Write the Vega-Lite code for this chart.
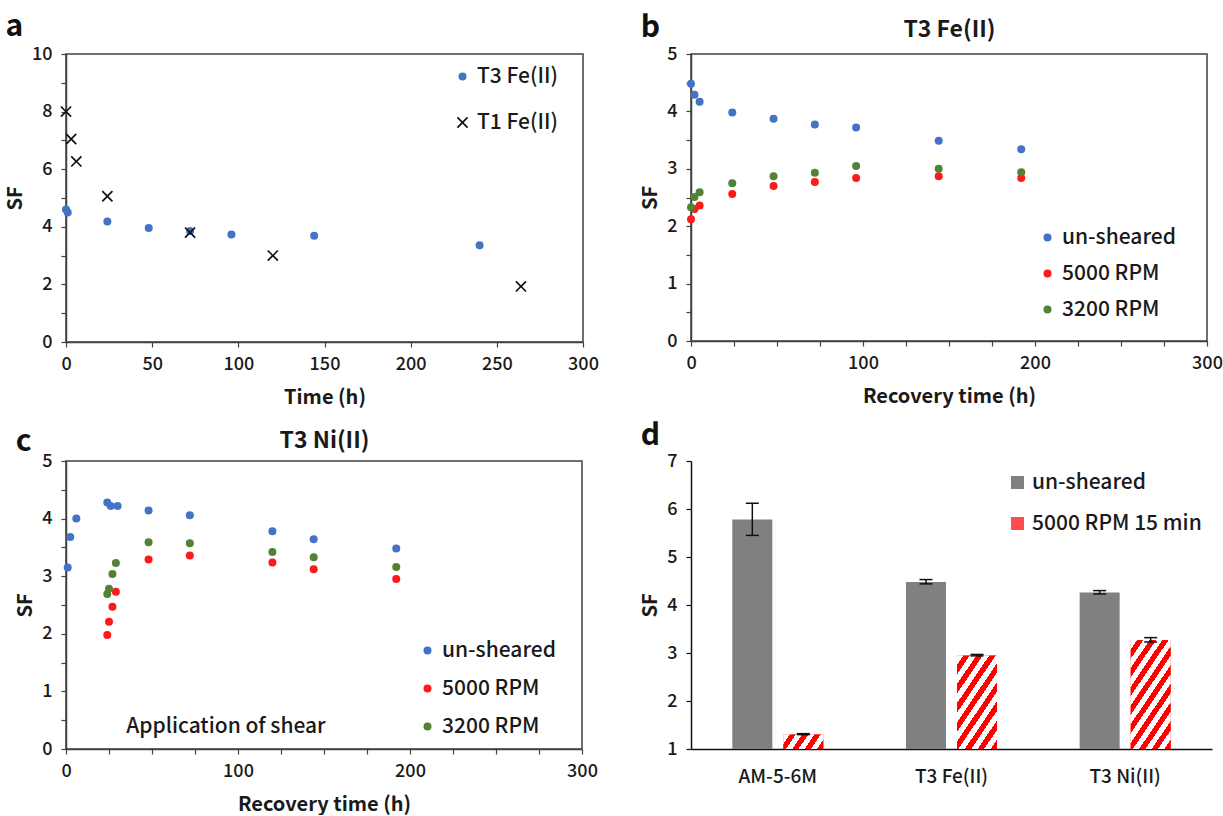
{
  "$schema": "https://vega.github.io/schema/vega-lite/v6.json",
  "background": "white",
  "padding": {"left": 4, "top": 11, "right": 0, "bottom": 0},
  "config": {
    "font": "Noto Sans CJK SC",
    "view": {"stroke": "#404040", "strokeWidth": 1.5},
    "axis": {"grid": false, "labelFontSize": 18, "labelFontWeight": 500, "labelColor": "#1a1a1a", "titleFontSize": 20, "titleFontWeight": "bold", "titleColor": "#1a1a1a", "domainColor": "#404040", "domainWidth": 1.5, "tickColor": "#404040", "tickWidth": 1.2, "tickSize": 5, "labelFlush": false, "labelOverlap": false},
    "axisX": {"labelPadding": 8, "titlePadding": 14},
    "axisY": {"labelPadding": 9, "titlePadding": 6},
    "legend": {"labelFontSize": 21, "labelFontWeight": 500, "labelColor": "#1a1a1a", "labelOffset": 4, "padding": 0, "labelLimit": 400},
    "title": {"fontSize": 30, "fontWeight": "bold", "anchor": "start", "frame": "bounds", "color": "#111111"}
  },
  "columns": 2,
  "spacing": {"row": 13, "column": 39},
  "resolve": {"scale": {"color": "independent", "shape": "independent"}, "legend": {"color": "independent", "shape": "independent"}},
  "concat": [
    {
      "title": {"text": "a", "offset": 3},
      "width": 517, "height": 288,
      "data": {"values": [
        {"series": "T3 Fe(II)", "t": 0, "sf": 4.6},
        {"series": "T3 Fe(II)", "t": 1, "sf": 4.5},
        {"series": "T3 Fe(II)", "t": 24, "sf": 4.18},
        {"series": "T3 Fe(II)", "t": 48, "sf": 3.96},
        {"series": "T3 Fe(II)", "t": 72, "sf": 3.85},
        {"series": "T3 Fe(II)", "t": 96, "sf": 3.73},
        {"series": "T3 Fe(II)", "t": 144, "sf": 3.69},
        {"series": "T3 Fe(II)", "t": 240, "sf": 3.36},
        {"series": "T1 Fe(II)", "t": 0, "sf": 8.0},
        {"series": "T1 Fe(II)", "t": 3, "sf": 7.05},
        {"series": "T1 Fe(II)", "t": 6, "sf": 6.27},
        {"series": "T1 Fe(II)", "t": 24, "sf": 5.06},
        {"series": "T1 Fe(II)", "t": 72, "sf": 3.8},
        {"series": "T1 Fe(II)", "t": 120, "sf": 3.0},
        {"series": "T1 Fe(II)", "t": 264, "sf": 1.93}
      ]},
      "mark": {"type": "point", "filled": true, "size": 64, "opacity": 1},
      "encoding": {
        "x": {"field": "t", "type": "quantitative", "scale": {"domain": [0, 300], "nice": false}, "axis": {"values": [0, 50, 100, 150, 200, 250, 300], "title": "Time (h)"}},
        "y": {"field": "sf", "type": "quantitative", "scale": {"domain": [0, 10], "nice": false}, "axis": {"values": [0, 1, 2, 3, 4, 5, 6, 7, 8, 9, 10], "labelExpr": "datum.value % 2 === 0 ? format(datum.value, 'd') : ''", "title": "SF"}},
        "color": {"field": "series", "type": "nominal", "scale": {"domain": ["T3 Fe(II)", "T1 Fe(II)"], "range": ["#4472C4", "#111111"]}, "legend": {"title": null, "orient": "none", "legendX": 386, "legendY": 12, "rowPadding": 24, "symbolSize": 64}},
        "shape": {"field": "series", "type": "nominal", "scale": {"domain": ["T3 Fe(II)", "T1 Fe(II)"], "range": ["circle", "M-1.42,-1.12L-1.12,-1.42L0,-0.3L1.12,-1.42L1.42,-1.12L0.3,0L1.42,1.12L1.12,1.42L0,0.3L-1.12,1.42L-1.42,1.12L-0.3,0Z"]}, "legend": {"title": null, "orient": "none", "legendX": 386, "legendY": 12, "rowPadding": 24, "symbolSize": 64}}
      }
    },
    {
      "title": {"text": "b", "offset": -25},
      "width": 516, "height": 287,
      "data": {"values": [
        {"series": "un-sheared", "t": 0, "sf": 4.48},
        {"series": "un-sheared", "t": 2, "sf": 4.29},
        {"series": "un-sheared", "t": 5, "sf": 4.17},
        {"series": "un-sheared", "t": 24, "sf": 3.98},
        {"series": "un-sheared", "t": 48, "sf": 3.87},
        {"series": "un-sheared", "t": 72, "sf": 3.77},
        {"series": "un-sheared", "t": 96, "sf": 3.72},
        {"series": "un-sheared", "t": 144, "sf": 3.49},
        {"series": "un-sheared", "t": 192, "sf": 3.34},
        {"series": "5000 RPM", "t": 0, "sf": 2.12},
        {"series": "5000 RPM", "t": 2, "sf": 2.3},
        {"series": "5000 RPM", "t": 5, "sf": 2.36},
        {"series": "5000 RPM", "t": 24, "sf": 2.56},
        {"series": "5000 RPM", "t": 48, "sf": 2.7},
        {"series": "5000 RPM", "t": 72, "sf": 2.77},
        {"series": "5000 RPM", "t": 96, "sf": 2.84},
        {"series": "5000 RPM", "t": 144, "sf": 2.87},
        {"series": "5000 RPM", "t": 192, "sf": 2.84},
        {"series": "3200 RPM", "t": 0, "sf": 2.33},
        {"series": "3200 RPM", "t": 2, "sf": 2.51},
        {"series": "3200 RPM", "t": 5, "sf": 2.59},
        {"series": "3200 RPM", "t": 24, "sf": 2.75},
        {"series": "3200 RPM", "t": 48, "sf": 2.87},
        {"series": "3200 RPM", "t": 72, "sf": 2.93},
        {"series": "3200 RPM", "t": 96, "sf": 3.05},
        {"series": "3200 RPM", "t": 144, "sf": 3.0},
        {"series": "3200 RPM", "t": 192, "sf": 2.94}
      ]},
      "layer": [
        {
          "mark": {"type": "point", "filled": true, "size": 64, "opacity": 1},
          "encoding": {
            "x": {"field": "t", "type": "quantitative", "scale": {"domain": [0, 300], "nice": false}, "axis": {"values": [0, 25, 50, 75, 100, 125, 150, 175, 200, 225, 250, 275, 300], "labelExpr": "datum.value % 100 === 0 ? format(datum.value, 'd') : ''", "title": "Recovery time (h)"}},
            "y": {"field": "sf", "type": "quantitative", "scale": {"domain": [0, 5], "nice": false}, "axis": {"values": [0, 0.5, 1, 1.5, 2, 2.5, 3, 3.5, 4, 4.5, 5], "labelExpr": "datum.value % 1 === 0 ? format(datum.value, 'd') : ''", "title": "SF"}},
            "color": {"field": "series", "type": "nominal", "scale": {"domain": ["un-sheared", "5000 RPM", "3200 RPM"], "range": ["#4472C4", "#FF1A1A", "#548235"]}, "legend": {"title": null, "orient": "none", "legendX": 346, "legendY": 173, "rowPadding": 14, "symbolSize": 64, "symbolType": "circle"}}
          }
        },
        {
          "mark": {"type": "rule", "opacity": 0},
          "encoding": {
            "x": {"datum": 0, "type": "quantitative", "scale": {"domain": [0, 300], "nice": false}, "axis": {"orient": "top", "title": "T3 Fe(II)", "labels": false, "ticks": false, "domain": false, "titleFontSize": 23, "titlePadding": 13}}
          }
        }
      ],
      "resolve": {"scale": {"x": "independent"}, "axis": {"x": "independent"}}
    },
    {
      "title": {"text": "c", "offset": -28},
      "width": 516, "height": 288,
      "layer": [
        {
          "mark": {"type": "rule", "color": "#333333", "strokeWidth": 1, "strokeDash": [4, 3]},
          "encoding": {
            "x": {"datum": 24, "type": "quantitative", "scale": {"domain": [0, 300], "nice": false}, "axis": null}
          }
        },
        {
          "data": {"values": [
            {"series": "un-sheared", "t": 1, "sf": 3.15},
            {"series": "un-sheared", "t": 2.5, "sf": 3.68},
            {"series": "un-sheared", "t": 6, "sf": 4.0},
            {"series": "un-sheared", "t": 24, "sf": 4.28},
            {"series": "un-sheared", "t": 26, "sf": 4.22},
            {"series": "un-sheared", "t": 30, "sf": 4.22},
            {"series": "un-sheared", "t": 48, "sf": 4.14},
            {"series": "un-sheared", "t": 72, "sf": 4.06},
            {"series": "un-sheared", "t": 120, "sf": 3.78},
            {"series": "un-sheared", "t": 144, "sf": 3.64},
            {"series": "un-sheared", "t": 192, "sf": 3.48},
            {"series": "5000 RPM", "t": 24, "sf": 1.98},
            {"series": "5000 RPM", "t": 25, "sf": 2.21},
            {"series": "5000 RPM", "t": 27, "sf": 2.47},
            {"series": "5000 RPM", "t": 29, "sf": 2.73},
            {"series": "5000 RPM", "t": 48, "sf": 3.29},
            {"series": "5000 RPM", "t": 72, "sf": 3.36},
            {"series": "5000 RPM", "t": 120, "sf": 3.24},
            {"series": "5000 RPM", "t": 144, "sf": 3.12},
            {"series": "5000 RPM", "t": 192, "sf": 2.95},
            {"series": "3200 RPM", "t": 24, "sf": 2.69},
            {"series": "3200 RPM", "t": 25, "sf": 2.78},
            {"series": "3200 RPM", "t": 27, "sf": 3.04},
            {"series": "3200 RPM", "t": 29, "sf": 3.23},
            {"series": "3200 RPM", "t": 48, "sf": 3.59},
            {"series": "3200 RPM", "t": 72, "sf": 3.57},
            {"series": "3200 RPM", "t": 120, "sf": 3.42},
            {"series": "3200 RPM", "t": 144, "sf": 3.33},
            {"series": "3200 RPM", "t": 192, "sf": 3.16}
          ]},
          "mark": {"type": "point", "filled": true, "size": 64, "opacity": 1},
          "encoding": {
            "x": {"field": "t", "type": "quantitative", "scale": {"domain": [0, 300], "nice": false}, "axis": {"values": [0, 25, 50, 75, 100, 125, 150, 175, 200, 225, 250, 275, 300], "labelExpr": "datum.value % 100 === 0 ? format(datum.value, 'd') : ''", "title": "Recovery time (h)"}},
            "y": {"field": "sf", "type": "quantitative", "scale": {"domain": [0, 5], "nice": false}, "axis": {"values": [0, 0.5, 1, 1.5, 2, 2.5, 3, 3.5, 4, 4.5, 5], "labelExpr": "datum.value % 1 === 0 ? format(datum.value, 'd') : ''", "title": "SF"}},
            "color": {"field": "series", "type": "nominal", "scale": {"domain": ["un-sheared", "5000 RPM", "3200 RPM"], "range": ["#4472C4", "#FF1A1A", "#548235"]}, "legend": {"title": null, "orient": "none", "legendX": 351, "legendY": 179, "rowPadding": 16, "symbolSize": 64, "symbolType": "circle"}}
          }
        },
        {
          "data": {"values": [{"t": 35, "sf": 0.39, "label": "Application of shear"}]},
          "mark": {"type": "text", "align": "left", "baseline": "middle", "fontSize": 21, "fontWeight": 500, "color": "#1a1a1a"},
          "encoding": {
            "x": {"field": "t", "type": "quantitative", "scale": {"domain": [0, 300], "nice": false}, "axis": null},
            "y": {"field": "sf", "type": "quantitative", "scale": {"domain": [0, 5], "nice": false}, "axis": {"values": [0, 0.5, 1, 1.5, 2, 2.5, 3, 3.5, 4, 4.5, 5], "labelExpr": "datum.value % 1 === 0 ? format(datum.value, 'd') : ''", "title": "SF"}},
            "text": {"field": "label"}
          }
        },
        {
          "mark": {"type": "rule", "opacity": 0},
          "encoding": {
            "x": {"datum": 0, "type": "quantitative", "scale": {"domain": [0, 300], "nice": false}, "axis": {"orient": "top", "title": "T3 Ni(II)", "labels": false, "ticks": false, "domain": false, "titleFontSize": 23, "titlePadding": 9}}
          }
        }
      ],
      "resolve": {"scale": {"x": "independent"}, "axis": {"x": "independent"}}
    },
    {
      "title": {"text": "d", "offset": 1},
      "width": 521, "height": 288,
      "view": {"stroke": null},
      "data": {"values": [
        {"group": "AM-5-6M", "cond": "un-sheared", "sf": 5.78, "lo": 5.45, "hi": 6.12},
        {"group": "T3 Fe(II)", "cond": "un-sheared", "sf": 4.48, "lo": 4.44, "hi": 4.53},
        {"group": "T3 Ni(II)", "cond": "un-sheared", "sf": 4.26, "lo": 4.23, "hi": 4.3},
        {"group": "AM-5-6M", "cond": "5000 RPM 15 min", "sf": 1.3, "lo": 1.3, "hi": 1.32},
        {"group": "T3 Fe(II)", "cond": "5000 RPM 15 min", "sf": 2.95, "lo": 2.94, "hi": 2.97},
        {"group": "T3 Ni(II)", "cond": "5000 RPM 15 min", "sf": 3.27, "lo": 3.23, "hi": 3.32}
      ]},
      "encoding": {
        "x": {"field": "group", "type": "nominal", "scale": {"domain": ["AM-5-6M", "T3 Fe(II)", "T3 Ni(II)"], "paddingInner": 0, "paddingOuter": 0}, "axis": {"title": null, "ticks": false, "tickSize": 0, "labelAngle": 0, "labelFontSize": 19, "labelPadding": 18, "domainColor": "#111111"}},
        "xOffset": {"field": "cond", "type": "nominal", "scale": {"domain": ["un-sheared", "5000 RPM 15 min"], "paddingInner": 0.216, "paddingOuter": 0.81}}
      },
      "layer": [
        {
          "mark": {"type": "bar"},
          "encoding": {
            "y": {"field": "sf", "type": "quantitative", "scale": {"domain": [1, 7], "nice": false, "zero": false}, "axis": {"values": [1, 2, 3, 4, 5, 6, 7], "title": "SF", "domainColor": "#111111", "tickColor": "#111111"}},
            "y2": {"datum": 1},
            "color": {"field": "cond", "type": "nominal", "scale": {"domain": ["un-sheared", "5000 RPM 15 min"], "range": ["#808080", "#FF4D4D"]}, "legend": {"title": null, "orient": "none", "legendX": 316, "legendY": 11, "rowPadding": 19, "symbolType": "square", "symbolSize": 170}}
          }
        },
        {
          "transform": [{"filter": "datum.cond === '5000 RPM 15 min' && datum.group === 'AM-5-6M'"}],
          "mark": {"type": "bar", "fill": {"gradient": "linear", "x1": 0, "y1": 0, "x2": 1.173, "y2": 0.2855, "stops": [
            {"offset": 0, "color": "#ffffff"}, {"offset": 0.125, "color": "#ffffff"}, {"offset": 0.125, "color": "#ff0000"}, {"offset": 0.25, "color": "#ff0000"},
            {"offset": 0.25, "color": "#ffffff"}, {"offset": 0.375, "color": "#ffffff"}, {"offset": 0.375, "color": "#ff0000"}, {"offset": 0.5, "color": "#ff0000"},
            {"offset": 0.5, "color": "#ffffff"}, {"offset": 0.625, "color": "#ffffff"}, {"offset": 0.625, "color": "#ff0000"}, {"offset": 0.75, "color": "#ff0000"},
            {"offset": 0.75, "color": "#ffffff"}, {"offset": 0.875, "color": "#ffffff"}, {"offset": 0.875, "color": "#ff0000"}, {"offset": 1, "color": "#ff0000"}
          ]}},
          "encoding": {
            "y": {"field": "sf", "type": "quantitative"},
            "y2": {"datum": 1}
          }
        },
        {
          "transform": [{"filter": "datum.cond === '5000 RPM 15 min' && datum.group === 'T3 Fe(II)'"}],
          "mark": {"type": "bar", "fill": {"gradient": "linear", "x1": 0, "y1": 0, "x2": 0.7375, "y2": 1.166, "stops": [
            {"offset": 0, "color": "#ffffff"}, {"offset": 0.0625, "color": "#ffffff"}, {"offset": 0.0625, "color": "#ff0000"}, {"offset": 0.125, "color": "#ff0000"},
            {"offset": 0.125, "color": "#ffffff"}, {"offset": 0.1875, "color": "#ffffff"}, {"offset": 0.1875, "color": "#ff0000"}, {"offset": 0.25, "color": "#ff0000"},
            {"offset": 0.25, "color": "#ffffff"}, {"offset": 0.3125, "color": "#ffffff"}, {"offset": 0.3125, "color": "#ff0000"}, {"offset": 0.375, "color": "#ff0000"},
            {"offset": 0.375, "color": "#ffffff"}, {"offset": 0.4375, "color": "#ffffff"}, {"offset": 0.4375, "color": "#ff0000"}, {"offset": 0.5, "color": "#ff0000"},
            {"offset": 0.5, "color": "#ffffff"}, {"offset": 0.5625, "color": "#ffffff"}, {"offset": 0.5625, "color": "#ff0000"}, {"offset": 0.625, "color": "#ff0000"},
            {"offset": 0.625, "color": "#ffffff"}, {"offset": 0.6875, "color": "#ffffff"}, {"offset": 0.6875, "color": "#ff0000"}, {"offset": 0.75, "color": "#ff0000"},
            {"offset": 0.75, "color": "#ffffff"}, {"offset": 0.8125, "color": "#ffffff"}, {"offset": 0.8125, "color": "#ff0000"}, {"offset": 0.875, "color": "#ff0000"},
            {"offset": 0.875, "color": "#ffffff"}, {"offset": 0.9375, "color": "#ffffff"}, {"offset": 0.9375, "color": "#ff0000"}, {"offset": 1, "color": "#ff0000"}
          ]}},
          "encoding": {
            "y": {"field": "sf", "type": "quantitative"},
            "y2": {"datum": 1}
          }
        },
        {
          "transform": [{"filter": "datum.cond === '5000 RPM 15 min' && datum.group === 'T3 Ni(II)'"}],
          "mark": {"type": "bar", "fill": {"gradient": "linear", "x1": 0, "y1": 0, "x2": 0.647, "y2": 1.1915, "stops": [
            {"offset": 0, "color": "#ffffff"}, {"offset": 0.0556, "color": "#ffffff"}, {"offset": 0.0556, "color": "#ff0000"}, {"offset": 0.1111, "color": "#ff0000"},
            {"offset": 0.1111, "color": "#ffffff"}, {"offset": 0.1667, "color": "#ffffff"}, {"offset": 0.1667, "color": "#ff0000"}, {"offset": 0.2222, "color": "#ff0000"},
            {"offset": 0.2222, "color": "#ffffff"}, {"offset": 0.2778, "color": "#ffffff"}, {"offset": 0.2778, "color": "#ff0000"}, {"offset": 0.3333, "color": "#ff0000"},
            {"offset": 0.3333, "color": "#ffffff"}, {"offset": 0.3889, "color": "#ffffff"}, {"offset": 0.3889, "color": "#ff0000"}, {"offset": 0.4444, "color": "#ff0000"},
            {"offset": 0.4444, "color": "#ffffff"}, {"offset": 0.5, "color": "#ffffff"}, {"offset": 0.5, "color": "#ff0000"}, {"offset": 0.5556, "color": "#ff0000"},
            {"offset": 0.5556, "color": "#ffffff"}, {"offset": 0.6111, "color": "#ffffff"}, {"offset": 0.6111, "color": "#ff0000"}, {"offset": 0.6667, "color": "#ff0000"},
            {"offset": 0.6667, "color": "#ffffff"}, {"offset": 0.7222, "color": "#ffffff"}, {"offset": 0.7222, "color": "#ff0000"}, {"offset": 0.7778, "color": "#ff0000"},
            {"offset": 0.7778, "color": "#ffffff"}, {"offset": 0.8333, "color": "#ffffff"}, {"offset": 0.8333, "color": "#ff0000"}, {"offset": 0.8889, "color": "#ff0000"},
            {"offset": 0.8889, "color": "#ffffff"}, {"offset": 0.9444, "color": "#ffffff"}, {"offset": 0.9444, "color": "#ff0000"}, {"offset": 1, "color": "#ff0000"}
          ]}},
          "encoding": {
            "y": {"field": "sf", "type": "quantitative"},
            "y2": {"datum": 1}
          }
        },
        {
          "mark": {"type": "rule", "color": "#111111", "strokeWidth": 1.5},
          "encoding": {
            "y": {"field": "lo", "type": "quantitative"},
            "y2": {"field": "hi"}
          }
        },
        {
          "mark": {"type": "tick", "orient": "horizontal", "size": 13, "thickness": 1.5, "color": "#111111", "opacity": 1},
          "encoding": {"y": {"field": "lo", "type": "quantitative"}}
        },
        {
          "mark": {"type": "tick", "orient": "horizontal", "size": 13, "thickness": 1.5, "color": "#111111", "opacity": 1},
          "encoding": {"y": {"field": "hi", "type": "quantitative"}}
        }
      ]
    }
  ]
}
